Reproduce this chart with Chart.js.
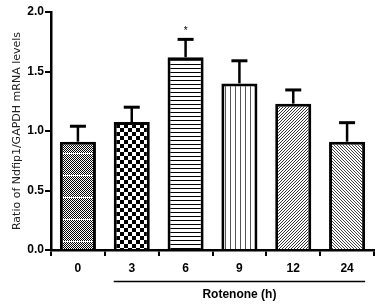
<!DOCTYPE html>
<html><head><meta charset="utf-8">
<script src="https://cdn.jsdelivr.net/npm/chart.js@4/dist/chart.umd.min.js"></script>
<style>html,body{margin:0;padding:0;background:#fff}#wrap{width:387px;height:304px}</style>
</head><body><div id="wrap"><canvas id="c" width="387" height="304"></canvas></div>
<script>
const categories = ['0','3','6','9','12','24'];
const means = [0.91, 1.075, 1.62, 1.40, 1.23, 0.91];
const errors = [0.13, 0.125, 0.15, 0.19, 0.115, 0.16];
const marks = ['', '', '*', '', '', ''];
const yTicks = [0, 0.5, 1.0, 1.5, 2.0];
const xTitle = 'Rotenone (h)';
const yTitle = 'Ratio of Ndfip1/GAPDH mRNA levels';

function mk(w,h,draw){const c=document.createElement('canvas');c.width=w;c.height=h;const g=c.getContext('2d');g.fillStyle='#fff';g.fillRect(0,0,w,h);draw(g);return g.createPattern(c,'repeat');}
const ctx0=document.getElementById('c').getContext('2d');
const patterns=[
 mk(4,22,g=>{g.fillStyle='#000';for(let y=0;y<21;y++)for(let x=0;x<4;x++)if((x+y)%2===0)g.fillRect(x,y,1,1);g.fillStyle='#fff';g.fillRect(0,21,4,1);}),
 mk(8,8,g=>{g.fillStyle='#000';g.fillRect(0,0,4,4);g.fillRect(4,4,4,4);}),
 mk(4,4,g=>{g.fillStyle='#000';g.fillRect(0,0,4,1);}),
 mk(5,5,g=>{g.fillStyle='#555';g.fillRect(0,0,1,5);}),
 mk(3,3,g=>{g.fillStyle='#333';g.fillRect(2,0,1,1);g.fillRect(1,1,1,1);g.fillRect(0,2,1,1);}),
 mk(3,3,g=>{g.fillStyle='#444';g.fillRect(0,0,1,1);g.fillRect(1,1,1,1);g.fillRect(2,2,1,1);})
];
const FONT='Arial, "Liberation Sans", sans-serif';

const extras={id:'extras',afterDatasetsDraw(chart){
 const {ctx,scales:{x,y}}=chart;const meta=chart.getDatasetMeta(0);
 ctx.save();ctx.strokeStyle='#000';
 meta.data.forEach((bar,i)=>{
  const top=y.getPixelForValue(means[i]+errors[i]);const bt=y.getPixelForValue(means[i]);
  ctx.lineWidth=2.5;ctx.beginPath();ctx.moveTo(bar.x,bt);ctx.lineTo(bar.x,top);ctx.stroke();
  ctx.lineWidth=3;ctx.beginPath();ctx.moveTo(bar.x-8,top);ctx.lineTo(bar.x+8,top);ctx.stroke();
  if(marks[i]){ctx.fillStyle='#000';ctx.font='10px '+FONT;ctx.textAlign='center';ctx.textBaseline='bottom';ctx.fillText(marks[i],bar.x,top-3);}
 });
 const b1=meta.data[1],b5=meta.data[5];
 const x1=b1.x-b1.width/2, x2=b5.x+b5.width/2;
 ctx.lineWidth=1.5;ctx.beginPath();ctx.moveTo(x1,281.5);ctx.lineTo(x2,281.5);ctx.stroke();
 ctx.fillStyle='#000';ctx.font='bold 12px '+FONT;ctx.textAlign='center';ctx.textBaseline='middle';
 ctx.fillText(xTitle,(x1+x2)/2,295);
 ctx.restore();
}};

new Chart(ctx0,{type:'bar',
 data:{labels:categories,datasets:[{data:means,backgroundColor:patterns,borderColor:'#000',borderWidth:3,borderSkipped:'bottom',barPercentage:0.67,categoryPercentage:1}]},
 options:{responsive:false,animation:false,devicePixelRatio:1,
  layout:{padding:{left:0,right:13,top:12,bottom:0}},
  plugins:{legend:{display:false},tooltip:{enabled:false}},
  scales:{
   x:{grid:{display:true,drawOnChartArea:false,tickLength:6,color:'#000',lineWidth:2},
      border:{display:true,color:'#000',width:2.5},
      ticks:{color:'#000',font:{family:FONT,size:12,weight:'bold'},padding:5},
      afterFit(s){s.height=54;}},
   y:{min:0,max:2,afterBuildTicks(s){s.ticks=yTicks.map(v=>({value:v}));},
      grid:{display:true,drawOnChartArea:false,tickLength:6,color:'#000',lineWidth:2},
      border:{display:true,color:'#000',width:2.5},
      ticks:{color:'#000',font:{family:FONT,size:12,weight:'bold'},padding:1,callback:v=>Number(v).toFixed(1)},
      title:{display:true,text:yTitle,color:'#222',font:{family:'"DejaVu Sans", sans-serif',size:11},padding:{top:11,bottom:0}},
      afterFit(s){s.width=51;}}
  }},
 plugins:[extras]});
</script></body></html>
